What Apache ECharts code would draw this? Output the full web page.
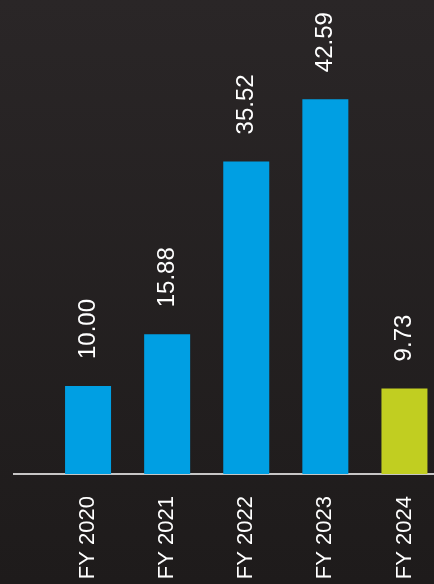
<!DOCTYPE html>
<html>
<head>
<meta charset="utf-8">
<script src="https://cdn.jsdelivr.net/npm/echarts@6/dist/echarts.min.js"></script>
<style>
  html, body { margin: 0; padding: 0; overflow: hidden; width: 434px; height: 584px; }
  /* 最后一个柱子所在类目超出画面右侧，容器放宽后裁掉 */
  #chart { width: 444px; height: 584px; }
</style>
</head>
<body>
<div id="chart"></div>
<script>
// 数据
const categories = ['FY 2020', 'FY 2021', 'FY 2022', 'FY 2023', 'FY 2024']
const values = [10.00, 15.88, 35.52, 42.59, 9.73]
const barColors = ['#009fe3', '#009fe3', '#009fe3', '#009fe3', '#c1ce21']

const chartInstance = echarts.init(document.getElementById('chart'))

const option = {
  backgroundColor: {
    type: 'linear', x: 0, y: 0, x2: 0, y2: 1,
    colorStops: [
      { offset: 0, color: '#2a2627' },
      { offset: 1, color: '#1e1b1b' }
    ]
  },
  grid: {
    left: 48.5,
    top: 34,
    right: 0,
    bottom: 110
  },
  xAxis: {
    type: 'category',
    data: categories,
    axisLine: { show: false },
    axisTick: { show: false },
    axisLabel: {
      rotate: 90,
      margin: 22,
      color: '#ffffff',
      fontSize: 22,
      fontFamily: 'Liberation Sans'
    }
  },
  yAxis: {
    type: 'value',
    min: 0,
    max: 50,
    show: false,
    splitLine: { show: false }
  },
  // x轴线比类目区域更长，单独画
  graphic: [
    {
      type: 'line',
      shape: { x1: 13, y1: 474, x2: 444, y2: 474 },
      style: { stroke: '#ffffff', lineWidth: 1.5 }
    }
  ],
  series: [
    {
      type: 'bar',
      barWidth: 46,
      data: values.map((v, i) => ({
        value: v,
        itemStyle: { color: barColors[i] }
      })),
      label: {
        show: true,
        position: 'top',
        rotate: 90,
        align: 'left',
        verticalAlign: 'middle',
        distance: 27,
        color: '#ffffff',
        fontSize: 24,
        fontFamily: 'Liberation Sans',
        formatter: p => p.value.toFixed(2)
      }
    }
  ]
}

chartInstance.setOption(option)
</script>
</body>
</html>
